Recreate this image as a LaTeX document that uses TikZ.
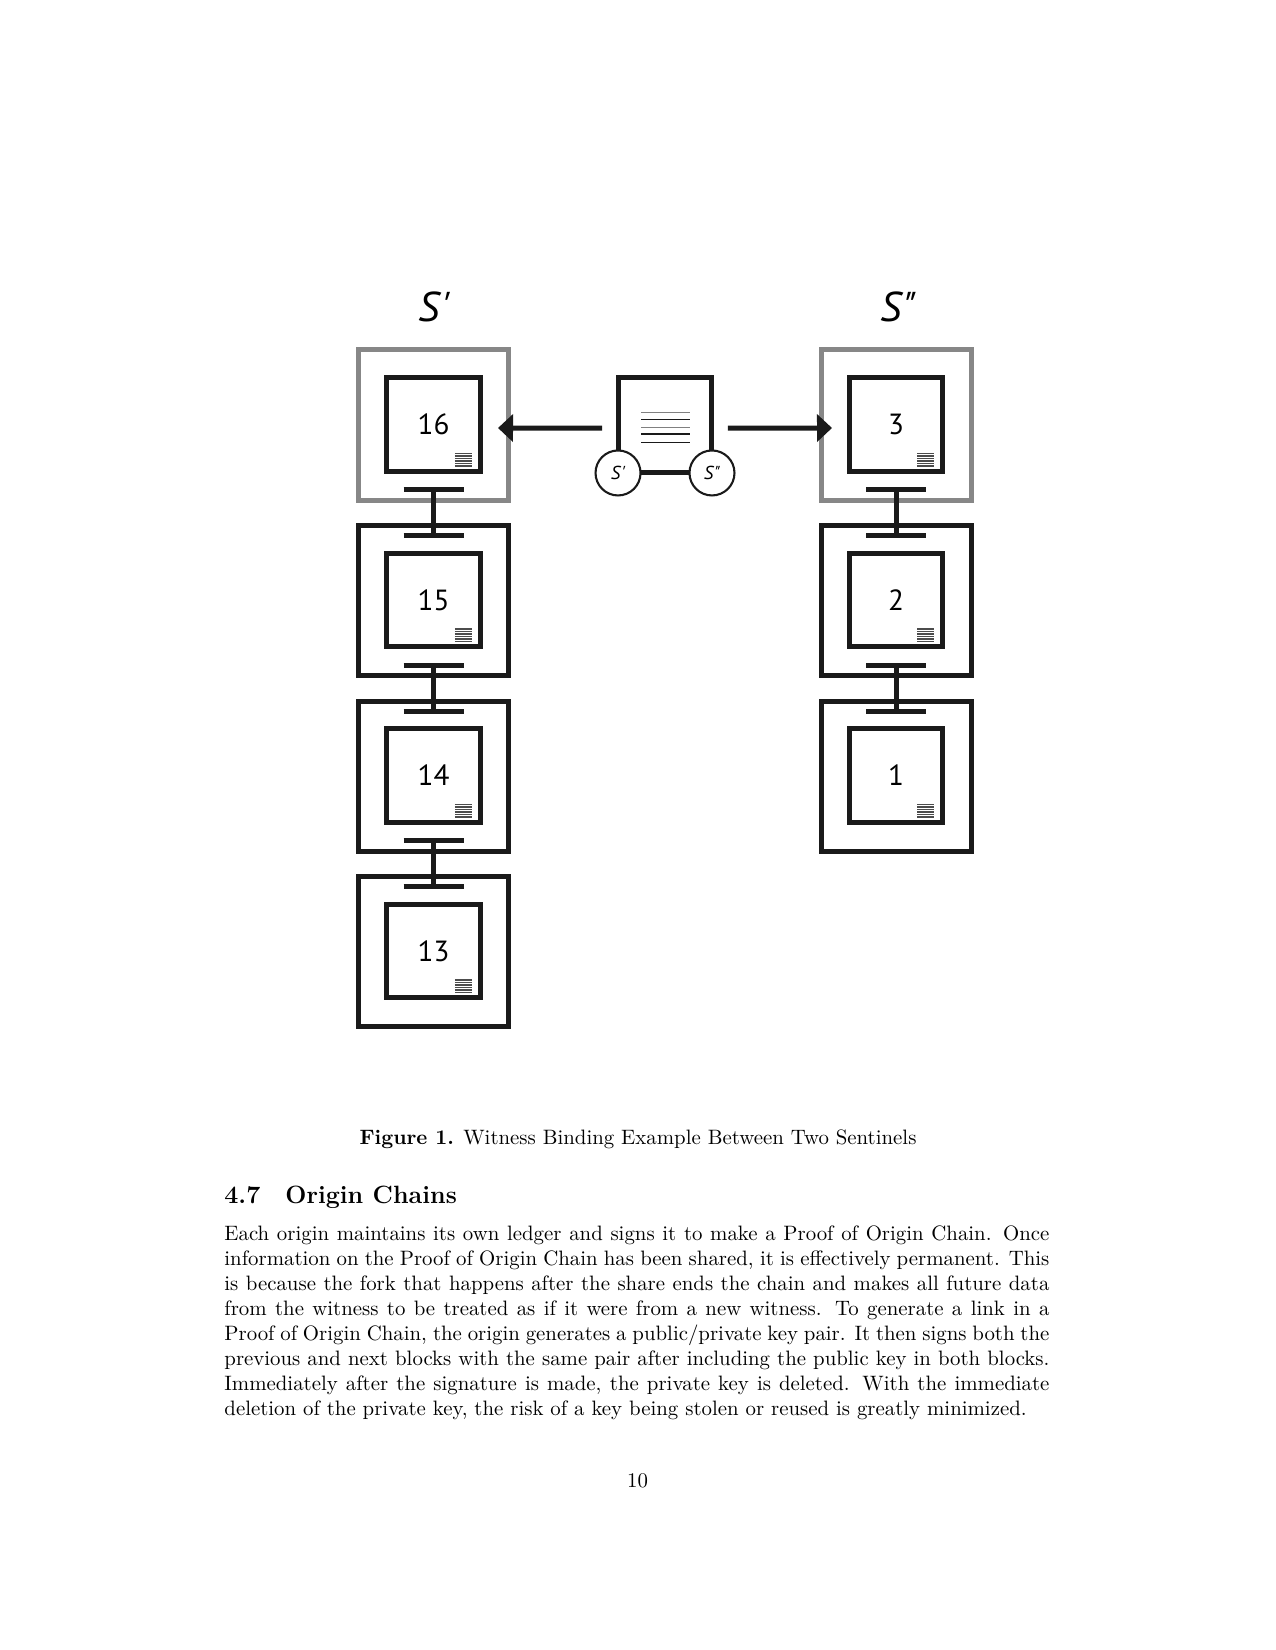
\documentclass[tikz,border=0pt]{standalone}
\usepackage{fontspec}
\newfontfamily\dsf{PT Sans}
\usetikzlibrary{calc,arrows.meta}
\definecolor{boxgray}{RGB}{135,135,135}
\definecolor{ink}{RGB}{26,26,26}
\begin{document}
\begin{tikzpicture}[x=0.48pt,y=-0.48pt,
  outerbox/.style={draw=ink, line width=2.4pt, minimum size=72pt, inner sep=0pt, outer sep=0pt},
  graybox/.style={outerbox, draw=boxgray},
  innerbox/.style={draw=ink, line width=2.4pt, minimum size=45.1pt, inner sep=0pt, outer sep=0pt, font=\dsf\fontsize{14}{14}\selectfont},
  linkbar/.style={draw=ink, line width=2.4pt},
  iconline/.style={draw=black!70, line width=0.6pt},
  sig/.style={circle, draw=ink, line width=1pt, fill=white, minimum size=21.6pt, inner sep=0pt, outer sep=0pt, font=\dsf\itshape\fontsize{9}{9}\selectfont},
  colhead/.style={font=\dsf\itshape\fontsize{20}{20}\selectfont, inner sep=0pt},
  arr/.style={draw=ink, line width=2.4pt, -{Triangle[length=7.2pt,width=13pt]}},
  bodytext/.style={inner sep=0pt, font=\fontsize{10}{12}\selectfont},
]
\fill[white] (0,0) rectangle (1275,1650);
\useasboundingbox (0,0) rectangle (1275,1650);

% column headings
\node[colhead] (hl) at (434,307) {S\kern1pt'};
\node[colhead] (hr) at (898,307) {S\kern1pt"};

% left chain
\node[graybox]  (o16) at (433.5,425) {};
\node[outerbox] (o15) at (433.5,600.5) {};
\node[outerbox] (o14) at (433.5,776) {};
\node[outerbox] (o13) at (433.5,951.5) {};
% right chain
\node[graybox]  (o3) at (896,425) {};
\node[outerbox] (o2) at (896,600.5) {};
\node[outerbox] (o1) at (896,776) {};

\foreach \n in {16,15,14,13,3,2,1} {
  \node[innerbox] (i\n) at ($(o\n.center)+(0,-0.5)$) {\n};
  \foreach \k in {0,...,5}
    \draw[iconline] ($(i\n.south east)+(-25.5,-18+2.5*\k)$) -- ++(17,0);
}

% links
\foreach \a/\b in {16/15,15/14,14/13,3/2,2/1} {
  \draw[linkbar] ($(o\a.south)+(-30,-10.5)$) -- ++(60,0);
  \draw[linkbar] ($(o\b.north)+(-30,10)$) -- ++(60,0);
  \draw[linkbar] ($(o\a.south)+(0,-10.5)$) -- ($(o\b.north)+(0,10)$);
}

% witness document
\node[draw=ink, line width=2.4pt, minimum width=45.1pt, minimum height=45.8pt, inner sep=0pt, outer sep=0pt] (doc) at (665,425.25) {};
\foreach \dy/\c/\w in {-13/black!50/0.7pt, -6/ink/0.6pt, 2/black!50/0.7pt, 9/ink/0.9pt, 17/ink/0.6pt}
  \draw[draw=\c, line width=\w] ($(doc.center)+(-24,\dy)$) -- ++(49,0);
\node[sig] (sa) at (doc.south west) {S\kern0.5pt'};
\node[sig] (sb) at (doc.south east) {S\kern0.5pt"};

% arrows
\draw[arr] ($(doc.west)+(-16,3)$) -- ($(o16.east)+(-10.5,3)$);
\draw[arr] ($(doc.east)+(16,3)$) -- ($(o3.west)+(11,3)$);

% page text
\node[bodytext, anchor=base] (cap) at (638,1144.5) {\textbf{Figure 1.} Witness Binding Example Between Two Sentinels};
\node[inner sep=0pt, anchor=base west, font=\fontsize{12}{14}\selectfont\bfseries] (head) at (224,1203.5) {4.7\hspace{12pt}Origin Chains};
\node[bodytext, anchor=north west, text width=396pt, align=justify] (para) at (224,1225.5) {Each origin maintains its own ledger and signs it to make a Proof of Origin Chain. Once information on the Proof of Origin Chain has been shared, it is effectively permanent. This is because the fork that happens after the share ends the chain and makes all future data from the witness to be treated as if it were from a new witness. To generate a link in a Proof of Origin Chain, the origin generates a public/private key pair. It then signs both the previous and next blocks with the same pair after including the public key in both blocks. Immediately after the signature is made, the private key is deleted. With the immediate deletion of the private key, the risk of a key being stolen or reused is greatly minimized.};
\node[bodytext, anchor=base] (pnum) at (637.5,1487) {10};
\end{tikzpicture}
\end{document}
